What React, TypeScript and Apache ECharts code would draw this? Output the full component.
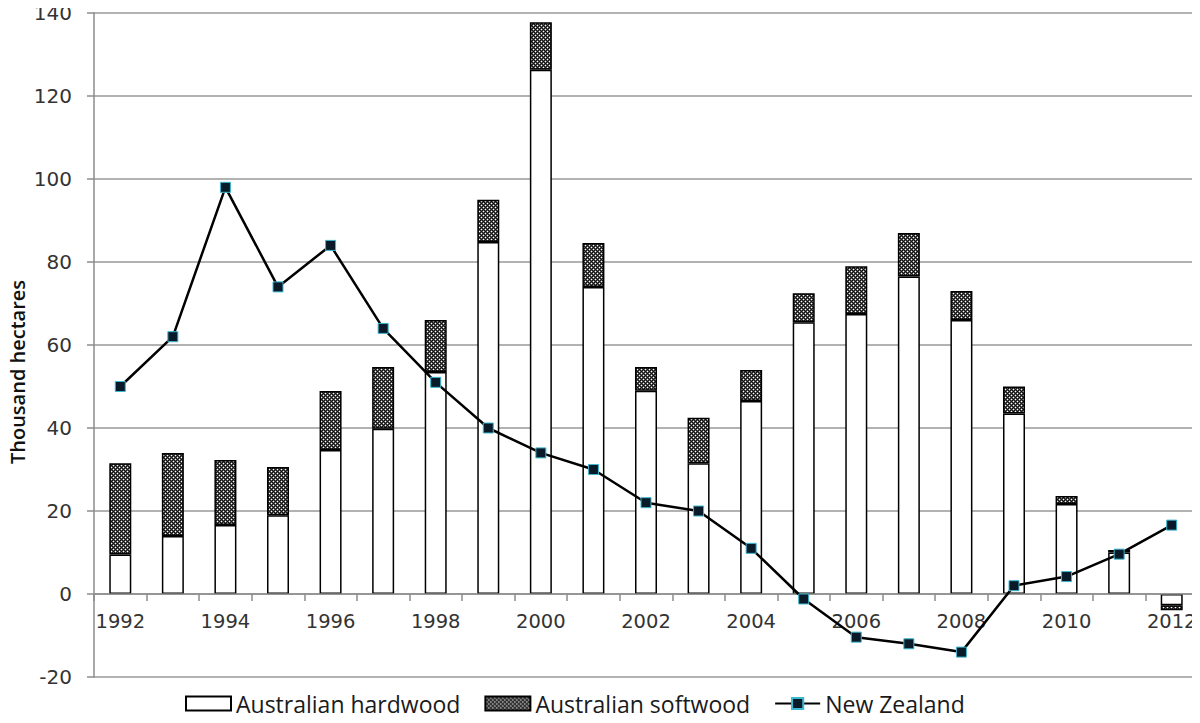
import React, { useEffect, useRef } from "react";
import * as echarts from "echarts";

const years = ["1992","1993","1994","1995","1996","1997","1998","1999","2000","2001","2002","2003","2004","2005","2006","2007","2008","2009","2010","2011","2012"];
const hardwood = [9.5, 14, 16.6, 19, 34.7, 39.8, 53.5, 84.8, 126.3, 74, 49, 31.5, 46.5, 65.5, 67.5, 76.5, 66, 43.5, 21.7, 10, -2.7];
const softwood = [22, 20, 15.7, 11.6, 14.2, 14.9, 12.5, 10.2, 11.5, 10.6, 5.7, 11, 7.5, 7, 11.5, 10.5, 7, 6.5, 1.9, 0.6, -1.2];
const newZealand = [50, 62, 98, 74, 84, 64, 51, 40, 34, 30, 22, 20, 11, -1.2, -10.4, -12, -14, 2, 4.2, 9.6, 16.6];

const yMin = -20;
const yMax = 140;

function makePattern(): HTMLCanvasElement {
  const c = document.createElement("canvas");
  c.width = 4;
  c.height = 4;
  const ctx = c.getContext("2d")!;
  ctx.fillStyle = "#111111";
  ctx.fillRect(0, 0, 4, 4);
  ctx.fillStyle = "#5a5a5a";
  const arms = [[0, 1], [2, 1], [1, 0], [1, 2], [2, 3], [3, 2], [0, 3], [3, 0]];
  arms.forEach(([x, y]) => ctx.fillRect(x, y, 1, 1));
  ctx.fillStyle = "#ffffff";
  ctx.fillRect(1, 1, 1, 1);
  ctx.fillRect(3, 3, 1, 1);
  return c;
}

export default function App() {
  const ref = useRef<HTMLDivElement>(null);
  useEffect(() => {
    if (!ref.current) return;
    const chart = echarts.init(ref.current, null, { renderer: "svg" });
    const pattern = makePattern();
    const labelFont = "DejaVu Sans";
    const gridTop = 13;
    const gridBottom = 46;
    const plotH = 723 - gridTop - gridBottom;
    const zeroOffset = -Math.round((plotH * (0 - yMin)) / (yMax - yMin));
    chart.setOption({
      animation: false,
      backgroundColor: "#ffffff",
      grid: { left: 94, right: 2, top: gridTop, bottom: gridBottom, containLabel: false },
      legend: {
        left: 180,
        bottom: 3,
        itemWidth: 45,
        itemHeight: 14,
        itemGap: 24,
        textStyle: { fontFamily: "Open Sans", fontSize: 23, color: "#1a1a1a" },
        data: [
          { name: "Australian hardwood", icon: "rect" },
          { name: "Australian softwood", icon: "rect" },
          { name: "New Zealand" },
        ],
      },
      xAxis: {
        type: "category",
        data: years,
        boundaryGap: true,
        position: "bottom",
        offset: zeroOffset,
        z: 3,
        axisLine: { onZero: false, lineStyle: { color: "#8c8c8c", width: 1.5 } },
        axisTick: { show: true, interval: 0, length: 7, lineStyle: { color: "#8c8c8c", width: 1.5 } },
        axisLabel: { interval: 1, margin: 17, fontFamily: labelFont, fontSize: 19.5, color: "#333" },
        splitLine: { show: false },
      },
      yAxis: {
        type: "value",
        min: yMin,
        max: yMax,
        interval: 20,
        axisLine: { show: true, lineStyle: { color: "#8c8c8c", width: 1.5 } },
        axisTick: { show: true, length: 7, lineStyle: { color: "#8c8c8c", width: 1.5 } },
        axisLabel: { margin: 22, fontFamily: labelFont, fontSize: 20, color: "#333" },
        splitLine: { show: true, lineStyle: { color: "#999", width: 1.5 } },
      },
      graphic: [
        {
          type: "text",
          x: 17,
          y: 372,
          rotation: Math.PI / 2,
          style: {
            text: "Thousand hectares",
            fontFamily: "Open Sans",
            fontSize: 20,
            fontWeight: 600,
            fill: "#111",
            align: "center",
            verticalAlign: "middle",
          },
        },
      ],
      series: [
        {
          name: "Australian hardwood",
          type: "bar",
          stack: "total",
          barWidth: 22,
          data: hardwood,
          itemStyle: { color: "#ffffff", borderColor: "#000", borderWidth: 1.5 },
        },
        {
          name: "Australian softwood",
          type: "bar",
          stack: "total",
          barWidth: 22,
          data: softwood,
          itemStyle: {
            color: { image: pattern, repeat: "repeat" },
            borderColor: "#000",
            borderWidth: 1.5,
          },
        },
        {
          name: "New Zealand",
          type: "line",
          data: newZealand,
          z: 5,
          symbol: "rect",
          symbolSize: 10,
          lineStyle: { color: "#000", width: 2.5 },
          itemStyle: { color: "#0b1a28", borderColor: "#3cb8d0", borderWidth: 1 },
        },
      ],
    });
    return () => chart.dispose();
  }, []);
  return <div ref={ref} style={{ width: 1200, height: 723, marginLeft: -8, marginTop: -8 }} />;
}
